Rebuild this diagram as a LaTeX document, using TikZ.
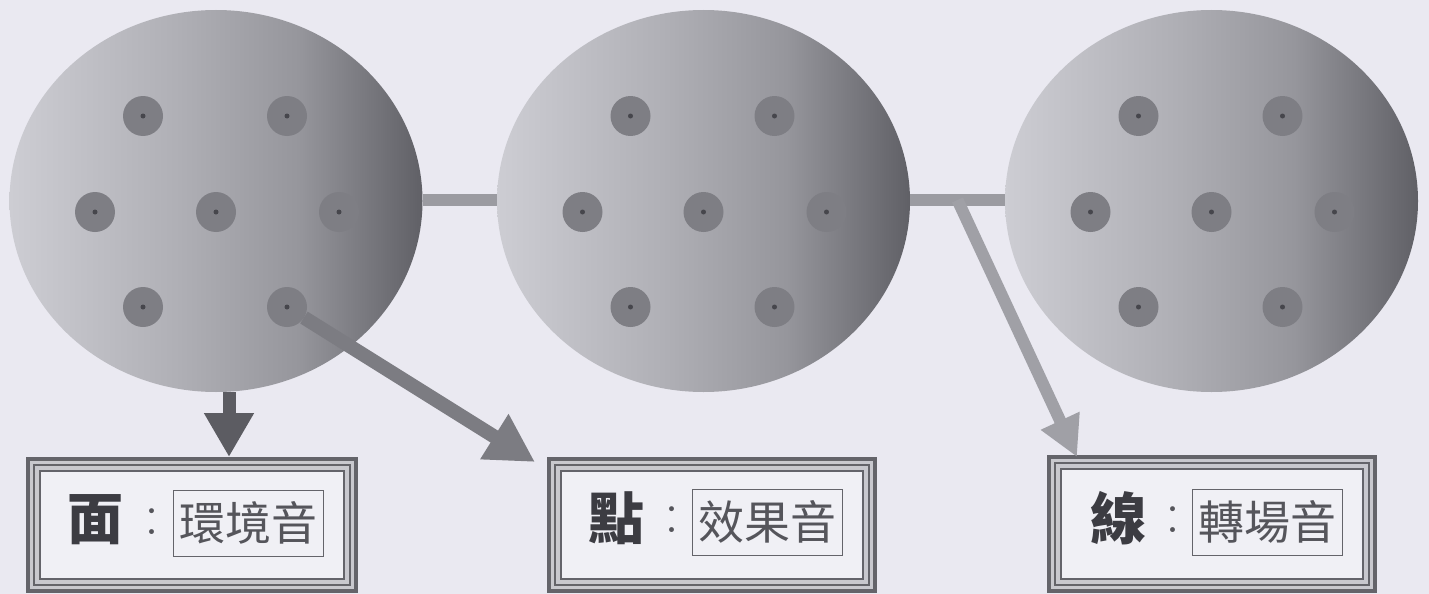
\documentclass[tikz,border=0pt]{standalone}
\usepackage{fontspec}
\newfontfamily\cjk{Noto Sans CJK TC}
\usetikzlibrary{shapes.geometric,arrows.meta,calc}
\definecolor{bg}{RGB}{234,233,241}
\definecolor{sA}{RGB}{205,205,211}
\definecolor{sB}{RGB}{176,176,182}
\definecolor{sC}{RGB}{150,150,156}
\definecolor{sD}{RGB}{96,96,102}
\definecolor{ring}{RGB}{126,126,132}
\definecolor{core}{RGB}{70,70,76}
\definecolor{barc}{RGB}{155,155,161}
\definecolor{arA}{RGB}{92,92,98}
\definecolor{arB}{RGB}{124,124,130}
\definecolor{arC}{RGB}{160,160,166}
\definecolor{frame}{RGB}{100,100,106}
\definecolor{framegap}{RGB}{200,200,206}
\definecolor{inner}{RGB}{240,240,245}
\definecolor{txtA}{RGB}{60,60,66}
\definecolor{txtB}{RGB}{85,85,91}
\pgfdeclarehorizontalshading{ball}{100bp}{color(0bp)=(sA); color(25bp)=(sA); color(45bp)=(sB); color(60bp)=(sC); color(75bp)=(sD); color(100bp)=(sD)}
\tikzset{
  disc/.style={ellipse, shading=ball, minimum width=413pt, minimum height=382pt, inner sep=0pt, outer sep=0pt},
  dotring/.style={circle, fill=ring, minimum size=40pt, inner sep=0pt},
  dotcore/.style={circle, fill=core, minimum size=5pt, inner sep=0pt},
  bar/.style={draw=barc, line width=12pt},
  arrowA/.style={draw=arA, line width=13pt, -{Triangle[width=47pt,length=44pt]}},
  arrowB/.style={draw=arB, line width=14pt, -{Triangle[width=50pt,length=48pt]}},
  arrowC/.style={draw=arC, line width=12pt, -{Triangle[width=40pt,length=40pt]}},
  labbox/.style={rectangle, fill=framegap, minimum height=136pt, inner sep=0pt, outer sep=0pt},
  main/.style={font=\cjk\bfseries\fontsize{56}{60}\selectfont, text=txtA, inner sep=0pt},
  colon/.style={font=\fontsize{60}{64}\selectfont, text=txtB, inner sep=0pt},
  kind/.style={draw=frame, line width=1pt, font=\cjk\fontsize{46}{50}\selectfont, text=txtB, minimum width=150pt, minimum height=66pt, inner sep=0pt}
}
\newcommand{\discdots}[1]{%
  \foreach \dx/\dy [count=\k] in {-73/-85,71/-85,-121/11,0/11,123/11,-73/106,71/106}{
    \node[dotring] (#1d\k) at ($(#1)+(\dx,\dy)$) {};
    \node[dotcore] at (#1d\k) {};
  }}
\newcommand{\myframe}[1]{%
  \draw[frame, line width=4pt] ($(#1.north west)+(2,2)$) rectangle ($(#1.south east)+(-2,-2)$);
  \draw[frame, line width=2pt] ($(#1.north west)+(8,8)$) rectangle ($(#1.south east)+(-8,-8)$);
  \draw[frame, line width=1.5pt, fill=inner] ($(#1.north west)+(14,14)$) rectangle ($(#1.south east)+(-14,-14)$);}
\begin{document}
\begin{tikzpicture}[x=1pt,y=-1pt]
\useasboundingbox (0,0) rectangle (1429,594);
\fill[bg] (0,0) rectangle (1429,594);
% discs
\node[disc] (c1) at (216,201) {};
\node[disc] (c2) at (703.5,201) {};
\node[disc] (c3) at (1211.5,201) {};
% bars between discs
\draw[bar] (c1.east |- 0,200) coordinate (c1r) -- (c2.west |- 0,200) coordinate (c2l);
\draw[bar] (c2.east |- 0,200) coordinate (c2r) -- (c3.west |- 0,200) coordinate (c3l);
\discdots{c1}
\discdots{c2}
\discdots{c3}
% boxes
\node[labbox, minimum width=332pt] (b1) at (192,525) {};
\node[labbox, minimum width=330pt] (b2) at (712,525) {};
\node[labbox, minimum width=330pt, minimum height=138pt] (b3) at (1212,524) {};
\myframe{b1}
\myframe{b2}
\myframe{b3}
% box texts
\node[main] (m1) at (95,520) {面};
\node[colon] (k1) at (152,522) {:};
\node[kind] (t1) at (248,523) {環境音};
\node[main] (m2) at (616,518) {點};
\node[colon] (k2) at (672,520) {:};
\node[kind] (t2) at (767.5,522) {效果音};
\node[main] (m3) at (1118,518) {線};
\node[colon] (k3) at (1173,520) {:};
\node[kind] (t3) at (1267.5,522) {轉場音};
% arrows
\coordinate (p1) at ($(b1.north west)+(203,0)$);
\draw[arrowA] (p1 |- c1.south) -- (p1);
\coordinate (p2) at ($(b2.north west)+(-12,5)$);
\draw[arrowB, shorten <=20pt] (c1d7.center) -- (p2);
\coordinate (s3) at ($(c2r)!0.5!(c3l)$);
\coordinate (p3) at ($(b3.north west)+(30,2)$);
\draw[arrowC] (s3) -- (p3);
\end{tikzpicture}
\end{document}
